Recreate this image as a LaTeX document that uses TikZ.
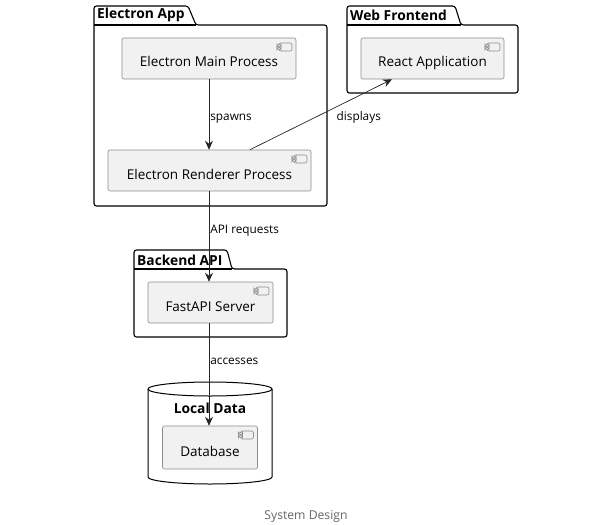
\documentclass[tikz,border=0pt]{standalone}
\usepackage{fontspec}
\setmainfont{Open Sans}
\usetikzlibrary{arrows.meta}
\definecolor{compfill}{HTML}{F1F1F1}
\definecolor{compline}{HTML}{8C8C8C}
\definecolor{captiongray}{HTML}{666666}
\tikzset{
  comp/.style={draw=compline, line width=0.6pt, fill=compfill, rounded corners=2pt, inner sep=0pt,
    font=\fontsize{13.5}{15}\selectfont, text height=17pt, text depth=0pt,
    path picture={
      \draw[compline, fill=compfill] ([xshift=-17pt,yshift=-5pt]path picture bounding box.north east) rectangle ++(13pt,-8pt);
      \draw[compline, fill=compfill] ([xshift=-19pt,yshift=-6.5pt]path picture bounding box.north east) rectangle ++(4pt,-2pt);
      \draw[compline, fill=compfill] ([xshift=-19pt,yshift=-9.5pt]path picture bounding box.north east) rectangle ++(4pt,-2pt);
    }},
  pkg/.style={draw, line width=1.1pt, rounded corners=2.5pt},
  pkgname/.style={anchor=west, inner sep=0pt, font=\bfseries\fontsize{13.8}{15}\selectfont},
  link/.style={draw=black!85, line width=0.7pt, -{Stealth[length=9pt,width=8pt,inset=3pt]}},
  linklabel/.style={anchor=west, inner sep=1pt, font=\fontsize{11.8}{14}\selectfont}
}
\begin{document}
\begin{tikzpicture}[x=1pt,y=-1pt]
  \useasboundingbox (0,0) rectangle (612,524);

  % packages
  \draw[pkg] (94,206) -- (94,6) -- (188,6) -- (196,25) -- (327,25) -- (327,206) -- cycle;
  \draw[line width=1.1pt] (94,25) -- (196,25);
  \node[pkgname] (appname) at (97,15) {Electron App};

  \draw[pkg] (347,93) -- (347,6) -- (455,6) -- (461,25) -- (518,25) -- (518,93) -- cycle;
  \draw[line width=1.1pt] (347,25) -- (461,25);
  \node[pkgname] (webname) at (350,15) {Web Frontend};

  \draw[pkg] (134,337) -- (134,250) -- (227,250) -- (232,269) -- (287,269) -- (287,337) -- cycle;
  \draw[line width=1.1pt] (134,269) -- (232,269);
  \node[pkgname] (apiname) at (137,260) {Backend API};

  % local data
  \draw[line width=1pt] (148,389) -- (148,477) arc[start angle=180, end angle=360, x radius=62pt, y radius=7pt] -- (272,389);
  \draw[line width=1pt] (210,389) ellipse[x radius=62pt, y radius=7pt];
  \node[pkgname, anchor=center] (dataname) at (210,408) {Local Data};

  % components
  \node[comp, minimum width=174pt, minimum height=41pt] (main) at (209,58.5) {Electron Main Process};
  \node[comp, minimum width=203pt, minimum height=41pt] (renderer) at (209.5,170.5) {Electron Renderer Process};
  \node[comp, minimum width=143pt, minimum height=41pt] (react) at (432.5,58.5) {React Application};
  \node[comp, minimum width=125pt, minimum height=41pt] (fastapi) at (210.5,302.5) {FastAPI Server};
  \node[comp, minimum width=95pt, minimum height=43pt] (db) at (210,447.5) {Database};

  % links
  \draw[link] (main.south -| 209,0) -- (renderer.north -| 209,0) node[linklabel, pos=0.56] {spawns};
  \draw[link] ([xshift=40.5pt]renderer.north) -- ([xshift=-40.5pt]react.south) node[linklabel, pos=0.46, xshift=20pt] {displays};
  \draw[link] (renderer.south -| 209,0) -- (fastapi.north -| 209,0) node[linklabel, pos=0.44] {API requests};
  \draw[link] (fastapi.south -| 209,0) -- (db.north -| 209,0) node[linklabel, pos=0.37] {accesses};

  \node[text=captiongray, font=\fontsize{12.2}{14}\selectfont] (caption) at (306,516) {System Design};
\end{tikzpicture}
\end{document}
